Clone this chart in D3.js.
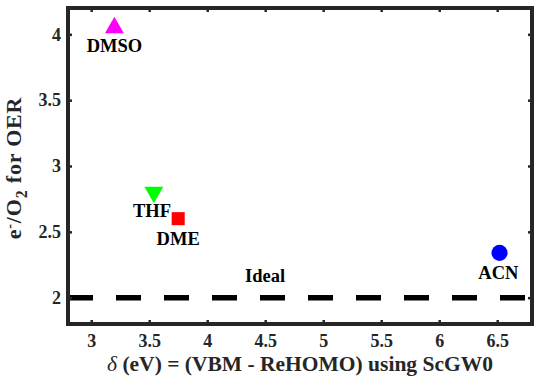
<!DOCTYPE html>
<html>
<head>
<meta charset="utf-8">
<script src="https://cdn.jsdelivr.net/npm/d3@7"></script>
<style>
  body { margin: 0; background: #fff; }
</style>
</head>
<body>
<div id="chart"></div>
<script>
// solvents: delta (eV) vs e-/O2 for OER
const names = ['DMSO', 'THF', 'DME', 'ACN'];
const deltas = [3.2, 3.54, 3.75, 6.52];
const ratios = [4.05, 2.8, 2.6, 2.34];
const shapes = ['triangle', 'triangleDown', 'square', 'circle'];
const colors = ['#ff00ff', '#00ff00', '#ff0000', '#0000ff'];
// label anchors in data units (like MATLAB text())
const labelX = [3.2, 3.36, 3.75, 6.51];
const labelY = [3.866, 2.615, 2.40, 2.142];
const labelAnchor = ['middle', 'start', 'middle', 'middle'];

const xTicks = [3, 3.5, 4, 4.5, 5, 5.5, 6, 6.5];
const yTicks = [2, 2.5, 3, 3.5, 4];
const idealValue = 2;

const width = 544, height = 378;
const margin = { top: 8, right: 12, bottom: 54, left: 68 };
const serif = "'Liberation Serif', 'DejaVu Serif', serif";

const svg = d3.select('#chart').append('svg')
  .attr('width', width)
  .attr('height', height)
  .attr('font-family', serif)
  .attr('font-weight', 'bold');

const x = d3.scaleLinear().domain([2.8, 6.8]).range([margin.left, width - margin.right]);
const y = d3.scaleLinear().domain([1.8, 4.2]).range([height - margin.bottom, margin.top]);

const axisColor = '#262626';
const tickSize = 4;

// ideal dashed line
svg.append('line')
  .attr('x1', x(2.8)).attr('x2', x(6.8))
  .attr('y1', y(idealValue)).attr('y2', y(idealValue))
  .attr('stroke', '#000')
  .attr('stroke-width', 5.5)
  .attr('stroke-dasharray', '25,23');

svg.append('text')
  .attr('x', x(4.326)).attr('y', y(2.119))
  .attr('text-anchor', 'start')
  .attr('font-size', 18.5)
  .text('Ideal');

// axes (ticks inward on all four sides)
const axBottom = svg.append('g')
  .attr('transform', `translate(0,${y(1.8)})`)
  .call(d3.axisBottom(x).tickValues(xTicks).tickSize(-tickSize).tickPadding(10).tickFormat(d3.format('')));
const axTop = svg.append('g')
  .attr('transform', `translate(0,${y(4.2)})`)
  .call(d3.axisTop(x).tickValues(xTicks).tickSize(-tickSize).tickFormat(''));
const axLeft = svg.append('g')
  .attr('transform', `translate(${x(2.8)},0)`)
  .call(d3.axisLeft(y).tickValues(yTicks).tickSize(-tickSize).tickPadding(7).tickFormat(d3.format('')));
const axRight = svg.append('g')
  .attr('transform', `translate(${x(6.8)},0)`)
  .call(d3.axisRight(y).tickValues(yTicks).tickSize(-tickSize).tickFormat(''));

[axBottom, axTop, axLeft, axRight].forEach((g) => {
  g.attr('font-family', serif).attr('font-size', 18);
  g.select('.domain').remove();
  g.selectAll('.tick line').attr('stroke', axisColor).attr('stroke-width', 2.5);
  g.selectAll('.tick text').attr('fill', '#262626');
});

svg.append('rect')
  .attr('x', x(2.8)).attr('y', y(4.2))
  .attr('width', x(6.8) - x(2.8))
  .attr('height', y(1.8) - y(4.2))
  .attr('fill', 'none')
  .attr('stroke', axisColor)
  .attr('stroke-width', 4);

// markers
const symbolFor = {
  triangle: d3.symbolTriangle,
  triangleDown: d3.symbolTriangle,
  square: d3.symbolSquare,
  circle: d3.symbolCircle,
};
const sizeFor = { triangle: 155, triangleDown: 155, square: 170, circle: 205 };

const points = names.map((n, i) => ({
  name: n, dx: deltas[i], r: ratios[i], shape: shapes[i], color: colors[i],
  lx: labelX[i], ly: labelY[i], anchor: labelAnchor[i],
}));

svg.selectAll('path.marker')
  .data(points)
  .enter()
  .append('path')
  .attr('class', 'marker')
  .attr('d', (d) => d3.symbol().type(symbolFor[d.shape]).size(sizeFor[d.shape])())
  .attr('transform', (d) => `translate(${x(d.dx)},${y(d.r)})${d.shape === 'triangleDown' ? ' rotate(180)' : ''}`)
  .attr('fill', (d) => d.color);

svg.selectAll('text.label')
  .data(points)
  .enter()
  .append('text')
  .attr('class', 'label')
  .attr('x', (d) => x(d.lx))
  .attr('y', (d) => y(d.ly))
  .attr('text-anchor', (d) => d.anchor)
  .attr('font-size', 18.5)
  .text((d) => d.name);

// axis titles
const xTitle = svg.append('text')
  .attr('x', 300)
  .attr('y', 371)
  .attr('text-anchor', 'middle')
  .attr('font-size', 21.5)
  .attr('fill', '#262626');
xTitle.append('tspan').attr('font-style', 'italic').attr('font-weight', 'normal').text('δ');
xTitle.append('tspan').text(' (eV) = (VBM - ReHOMO) using ScGW0');

const yTitle = svg.append('text')
  .attr('transform', 'translate(21,168) rotate(-90)')
  .attr('text-anchor', 'middle')
  .attr('font-size', 22)
  .attr('letter-spacing', 0.8)
  .attr('fill', '#262626');
yTitle.append('tspan').text('e');
yTitle.append('tspan').attr('dy', -7).attr('font-size', 14).text('-');
yTitle.append('tspan').attr('dy', 7).text('/O');
yTitle.append('tspan').attr('dy', 6).attr('font-size', 16).text('2');
yTitle.append('tspan').attr('dy', -6).text(' for OER');
</script>
</body>
</html>
